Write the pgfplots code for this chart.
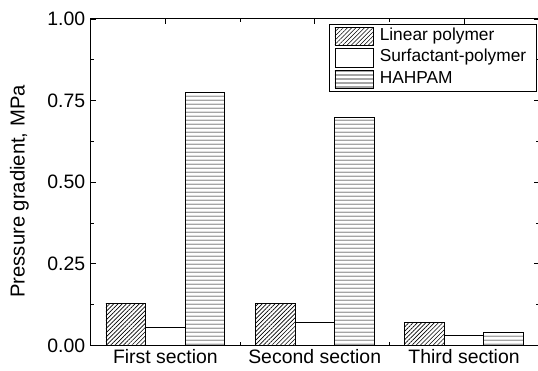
\documentclass[border=0pt]{standalone}
\usepackage{pgfplots}
\pgfplotsset{compat=1.18}
\usepackage{fontspec}
\setmainfont{Liberation Sans}
\usetikzlibrary{patterns.meta}
\begin{document}
\begin{tikzpicture}
\begin{axis}[
  scale only axis, width=448bp, height=326.5bp,
  xmin=0.5, xmax=3.5, ymin=0, ymax=1,
  ybar=0pt, bar width=39.6bp,
  axis line style={line width=1bp, black},
  tick align=inside, tick pos=both,
  major tick length=5bp, minor tick length=3bp,
  every tick/.style={black, line width=0.8bp},
  xtick={1,2,3}, xticklabels={First section, Second section, Third section},
  minor xtick={1.5,2.5},
  ytick={0,0.25,0.5,0.75,1}, minor ytick={0.125,0.375,0.625,0.875},
  /pgf/number format/assume math mode=true,
  tick label style={font=\fontsize{19.5}{22}\selectfont},
  yticklabel style={xshift=-2bp, /pgf/number format/.cd, fixed, fixed zerofill, precision=2},
  ylabel={Pressure gradient, MPa},
  ylabel style={font=\fontsize{20.3}{23}\selectfont, at={(axis description cs:-0.159,0.472)}, anchor=center},
  legend image code/.code={\draw[#1] (0bp,-9.3bp) rectangle (38.4bp,9.3bp);},
  legend style={at={(rel axis cs:1,1)}, anchor=north east, xshift=-2bp, yshift=-5.3bp,
    draw=black, line width=0.8bp, font=\fontsize{17.4}{20}\selectfont,
    inner xsep=5.6bp, inner ysep=1bp, row sep=0.3bp,
    nodes={inner ysep=2bp, inner xsep=4.5bp, text height=12.5bp, text depth=4.8bp},
    /tikz/every odd column/.append style={column sep=1.5bp},
    cells={anchor=west}},
]
\addplot[draw=black, line width=0.8bp, pattern={Lines[angle=45,distance=3bp,line width=0.6bp]}, pattern color=black] coordinates {(1,0.13) (2,0.13) (3,0.07)};
\addplot[draw=black, fill=white, line width=0.8bp] coordinates {(1,0.056) (2,0.07) (3,0.03)};
\addplot[draw=black, line width=0.8bp, pattern={Lines[angle=0,distance=3.9bp,line width=0.7bp]}, pattern color=black] coordinates {(1,0.776) (2,0.698) (3,0.04)};
\legend{Linear polymer, Surfactant-polymer, HAHPAM}
\coordinate (O) at (rel axis cs:0,0);
\end{axis}
\pgfresetboundingbox
\path[use as bounding box] (O) ++(-90.7bp,-25.5bp) rectangle ++(538bp,371bp);
\end{tikzpicture}
\end{document}
